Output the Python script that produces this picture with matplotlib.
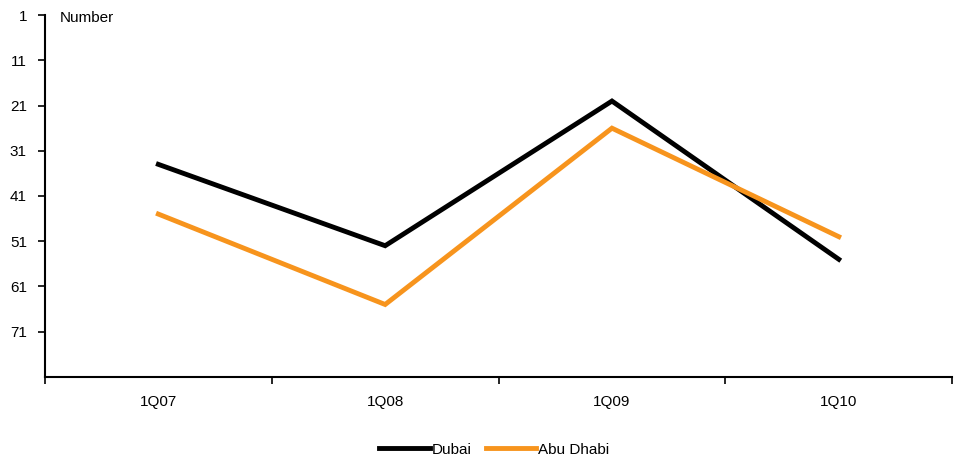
import matplotlib
matplotlib.use("Agg")
import matplotlib.pyplot as plt

quarters = ["1Q07", "1Q08", "1Q09", "1Q10"]
dubai = [34, 52, 20, 55]
abu_dhabi = [45, 65, 26, 50]
y_ticks = [1, 11, 21, 31, 41, 51, 61, 71]

plt.rcParams["font.family"] = ["Liberation Sans", "DejaVu Sans"]
plt.rcParams["font.size"] = 11

fig = plt.figure(figsize=(9.56, 4.59), dpi=100)
ax = fig.add_axes([0.047, 0.179, 0.949, 0.788])

x = list(range(len(quarters)))
ax.plot(x, dubai, color="black", lw=3.5, label="Dubai", solid_joinstyle="miter")
ax.plot(x, abu_dhabi, color="#F7941D", lw=3.5, label="Abu Dhabi", solid_joinstyle="miter")

ax.set_xlim(-0.5, len(quarters) - 0.5)
ax.set_ylim(81, 1)
ax.set_yticks(y_ticks)
ax.set_xticks(x)
ax.set_xticklabels(quarters)
ax.set_xticks([i - 0.5 for i in range(len(quarters) + 1)], minor=True)
ax.tick_params(axis="x", which="major", length=0, pad=13)
ax.tick_params(axis="x", which="minor", length=5, width=1.2, direction="out")
ax.tick_params(axis="y", length=5, width=1.2, direction="out", pad=8)

for side in ("top", "right"):
    ax.spines[side].set_visible(False)
for side in ("left", "bottom"):
    ax.spines[side].set_linewidth(1.5)

ax.text(0.016, 0.993, "Number", transform=ax.transAxes, va="center", ha="left")

leg = fig.legend(loc="lower center", bbox_to_anchor=(0.517, -0.025), ncol=2, frameon=False,
                 handlelength=3.3, handletextpad=0.15, columnspacing=0.9)

fig.savefig("out.png", dpi=100)
